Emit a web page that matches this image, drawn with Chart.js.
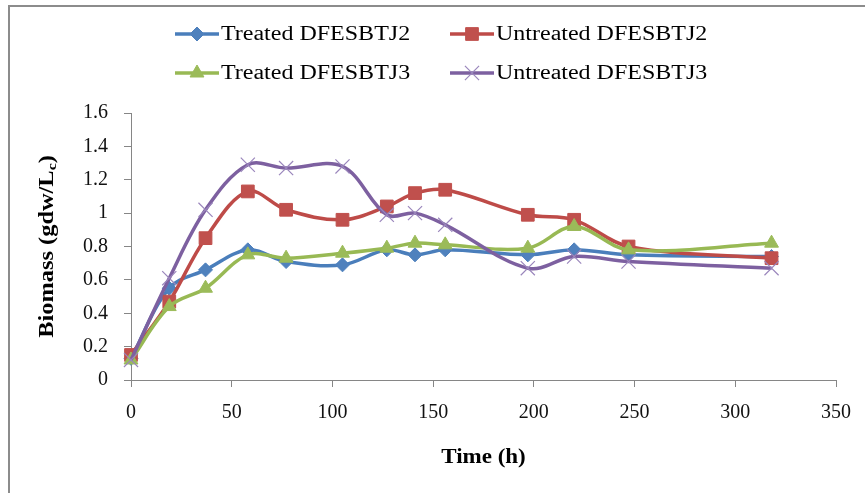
<!DOCTYPE html>
<html>
<head>
<meta charset="utf-8">
<title>Biomass over time</title>
<script src="https://cdn.jsdelivr.net/npm/chart.js@4.4.1/dist/chart.umd.min.js"></script>
<style>
  html, body { margin: 0; padding: 0; background: #fff; overflow: hidden; }
  #frame { position: absolute; left: 8px; top: 5px; width: 900px; height: 600px; border: 2px solid #8c8c8c; }
  #myChart { position: absolute; left: 0; top: 0; }
</style>
</head>
<body>
<div id="frame"></div>
<canvas id="myChart" width="865" height="493"></canvas>
<script>
// sampling times (h) and biomass readings (gdw/Lc)
const timeHours = [0, 19, 37, 58, 77, 105, 127, 141, 156, 197, 220, 247, 318];
const treatedJ2 = [0.13, 0.55, 0.66, 0.78, 0.71, 0.69, 0.78, 0.75, 0.78, 0.75, 0.78, 0.75, 0.74];
const untreatedJ2 = [0.15, 0.47, 0.85, 1.13, 1.02, 0.96, 1.04, 1.12, 1.14, 0.99, 0.96, 0.80, 0.73];
const treatedJ3 = [0.12, 0.44, 0.55, 0.75, 0.73, 0.76, 0.79, 0.82, 0.81, 0.79, 0.92, 0.78, 0.82];
const untreatedJ3 = [0.12, 0.61, 1.02, 1.29, 1.27, 1.28, 0.99, 1.00, 0.93, 0.67, 0.74, 0.71, 0.67];

const seriesNames = ["Treated DFESBTJ2", "Untreated DFESBTJ2", "Treated DFESBTJ3", "Untreated DFESBTJ3"];
const xTitle = "Time (h)";
const yTitle = "Biomass (gdw/L";
const yTitleSub = "c";
const yTitleEnd = ")";

const FONT = '"Liberation Serif", "Times New Roman", serif';

function points(values) {
  return values.map((v, i) => ({ x: timeHours[i], y: v }));
}

function series(label, values, line, fill, style, radius, order) {
  return {
    label: label,
    data: points(values),
    borderColor: line,
    borderWidth: 3.5,
    pointStyle: style,
    pointRadius: radius,
    pointBackgroundColor: fill,
    pointBorderColor: fill,
    pointBorderWidth: style === "crossRot" ? 1.2 : 1,
    tension: 0.35,
    clip: false,
    order: order,
  };
}

// text drawn a little wider than the font's normal proportions
function wideText(ctx, text, x, y, sx, align) {
  ctx.save();
  ctx.translate(x, y);
  ctx.scale(sx, 1);
  ctx.textAlign = align;
  ctx.fillText(text, 0, 0);
  ctx.restore();
}

// two-row legend plus both axis titles
const titlesAndLegend = {
  id: "titlesAndLegend",
  afterDraw(chart) {
    const ctx = chart.ctx;
    const area = chart.chartArea;
    const cols = [175, 450];
    const rows = [34, 73];

    chart.data.datasets.forEach((ds, i) => {
      const x = cols[i % 2];
      const y = rows[Math.floor(i / 2)];
      ctx.save();
      ctx.strokeStyle = ds.borderColor;
      ctx.lineWidth = 3.5;
      ctx.beginPath();
      ctx.moveTo(x, y);
      ctx.lineTo(x + 44, y);
      ctx.stroke();
      ctx.fillStyle = ds.pointBackgroundColor;
      ctx.strokeStyle = ds.pointBorderColor;
      ctx.lineWidth = ds.pointBorderWidth;
      Chart.helpers.drawPoint(ctx, {
        pointStyle: ds.pointStyle,
        radius: ds.pointRadius,
        rotation: 0,
        borderWidth: ds.pointBorderWidth,
      }, x + 22, y);
      ctx.fillStyle = "#000";
      ctx.font = "20px " + FONT;
      ctx.textBaseline = "middle";
      wideText(ctx, ds.label, x + 46, y + 1, 1.2, "left");
      ctx.restore();
    });

    ctx.save();
    ctx.fillStyle = "#000";
    ctx.font = "bold 20px " + FONT;
    ctx.textBaseline = "middle";
    wideText(ctx, xTitle, (area.left + area.right) / 2, 458, 1.15, "center");

    // rotated y title with subscript c
    const main = "bold 20px " + FONT;
    const sub = "bold 13px " + FONT;
    ctx.font = main;
    const w1 = ctx.measureText(yTitle).width;
    const w3 = ctx.measureText(yTitleEnd).width;
    ctx.font = sub;
    const w2 = ctx.measureText(yTitleSub).width;
    const total = w1 + w2 + w3;
    ctx.translate(48, (area.top + area.bottom) / 2);
    ctx.rotate(-Math.PI / 2);
    ctx.scale(1.22, 1);
    ctx.textAlign = "left";
    ctx.font = main;
    ctx.fillText(yTitle, -total / 2, 0);
    ctx.font = sub;
    ctx.fillText(yTitleSub, -total / 2 + w1, 5);
    ctx.font = main;
    ctx.fillText(yTitleEnd, -total / 2 + w1 + w2, 0);
    ctx.restore();
  },
};

const axisColor = "#868686";
const tickFont = { family: FONT, size: 20 };

new Chart(document.getElementById("myChart"), {
  type: "line",
  data: {
    datasets: [
      series(seriesNames[0], treatedJ2, "#4A7EBB", "#4F81BD", "rectRot", 7, 4),
      series(seriesNames[1], untreatedJ2, "#BE4B48", "#C0504D", "rect", 9, 3),
      series(seriesNames[2], treatedJ3, "#98B954", "#9BBB59", "triangle", 8, 2),
      series(seriesNames[3], untreatedJ3, "#7D60A0", "#9A86BC", "crossRot", 10, 1),
    ],
  },
  options: {
    responsive: false,
    animation: false,
    layout: { padding: { left: 61, right: 29, top: 113, bottom: 53 } },
    scales: {
      x: {
        type: "linear",
        min: 0,
        max: 350,
        ticks: { stepSize: 50, font: tickFont, color: "#111", padding: 14 },
        grid: { drawOnChartArea: false, tickLength: 7, color: axisColor },
        border: { color: axisColor },
        afterFit: (s) => { s.height = 60; },
      },
      y: {
        min: 0,
        max: 1.6,
        ticks: {
          stepSize: 0.2,
          font: tickFont,
          color: "#111",
          padding: 16,
          callback: (v) => String(Math.round(v * 10) / 10),
        },
        grid: { drawOnChartArea: false, tickLength: 7, color: axisColor },
        border: { color: axisColor },
        afterFit: (s) => { s.width = 70; },
      },
    },
    plugins: {
      legend: { display: false },
      tooltip: { enabled: false },
    },
  },
  plugins: [titlesAndLegend],
});
</script>
</body>
</html>
